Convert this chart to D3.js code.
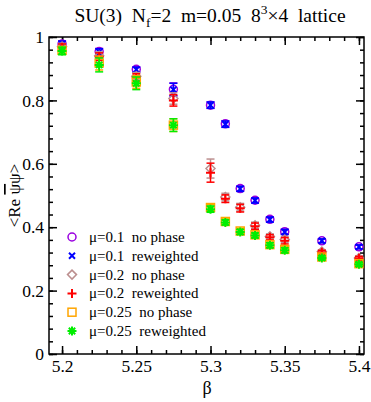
<!DOCTYPE html>
<html>
<head>
<meta charset="utf-8">
<script src="https://cdn.jsdelivr.net/npm/d3@7"></script>
<style>
  body { margin: 0; background: #fff; }
  svg text { font-family: "Liberation Serif", Tinos, "DejaVu Serif", serif !important; fill: #000; }
</style>
</head>
<body>
<svg id="chart" width="371" height="402"></svg>
<script>
'use strict';

// beta values (x)
var beta = [5.2, 5.225, 5.25, 5.275, 5.3, 5.31, 5.32, 5.33, 5.34, 5.35, 5.375, 5.4];

// <Re psibar psi> per series
var mu01NoPhase  = [0.978, 0.954, 0.898, 0.835, 0.785, 0.726, 0.522, 0.485, 0.425, 0.386, 0.357, 0.338];
var mu01Rew      = [0.977, 0.953, 0.897, 0.834, 0.785, 0.725, 0.521, 0.484, 0.424, 0.385, 0.357, 0.338];
var mu01Err      = [0.010, 0.010, 0.008, 0.020, 0.010, 0.010, 0.008, 0.008, 0.008, 0.008, 0.006, 0.006];

var mu02NoPhase  = [0.970, 0.941, 0.876, 0.806, 0.585, 0.495, 0.463, 0.406, 0.371, 0.361, 0.323, 0.303];
var mu02Rew      = [0.968, 0.938, 0.872, 0.800, 0.572, 0.490, 0.460, 0.403, 0.368, 0.357, 0.321, 0.302];
var mu02Err      = [0.010, 0.012, 0.012, 0.018, 0.030, 0.012, 0.012, 0.010, 0.008, 0.010, 0.006, 0.006];

var mu025NoPhase = [0.958, 0.918, 0.858, 0.722, 0.462, 0.418, 0.388, 0.376, 0.345, 0.330, 0.306, 0.285];
var mu025Rew     = [0.956, 0.912, 0.854, 0.722, 0.457, 0.415, 0.385, 0.374, 0.343, 0.327, 0.303, 0.283];
var mu025Err     = [0.012, 0.022, 0.020, 0.020, 0.010, 0.008, 0.008, 0.008, 0.008, 0.008, 0.006, 0.006];

var legendLabels = ['\u03bc=0.1  no phase', '\u03bc=0.1  reweighted', '\u03bc=0.2  no phase',
                    '\u03bc=0.2  reweighted', '\u03bc=0.25  no phase', '\u03bc=0.25  reweighted'];

var xMajor = [5.2, 5.25, 5.3, 5.35, 5.4];
var yMajor = [0, 0.2, 0.4, 0.6, 0.8, 1];

var series = [
  { name: legendLabels[0], vals: mu01NoPhase,  err: mu01Err,  color: '#9a00e0', sym: 'circle' },
  { name: legendLabels[1], vals: mu01Rew,      err: mu01Err,  color: '#0000ff', sym: 'cross' },
  { name: legendLabels[2], vals: mu02NoPhase,  err: mu02Err,  color: '#bc8f8f', sym: 'diamond' },
  { name: legendLabels[3], vals: mu02Rew,      err: mu02Err,  color: '#ff0000', sym: 'plus' },
  { name: legendLabels[4], vals: mu025NoPhase, err: mu025Err, color: '#ffa500', sym: 'square' },
  { name: legendLabels[5], vals: mu025Rew,     err: mu025Err, color: '#00ee00', sym: 'star' }
];

var svg = d3.select('#chart');
var L = 49, R = 364, T = 37, B = 354;

var x = d3.scaleLinear().domain([5.1912, 5.4034]).range([L, R]);
var y = d3.scaleLinear().domain([0, 1]).range([B, T]);

var xMinor = d3.range(5.19, 5.4035, 0.01).filter(function (v) { return v > 5.1912; });
var yMinor = d3.range(0, 1.001, 0.04);

function styleAxis(g) {
  g.attr('font-family', null);
  g.select('.domain').remove();
  g.selectAll('line').attr('stroke', '#000').attr('stroke-width', 1.5);
  g.selectAll('text').style('font-size', '17.5px');
}

// bottom
svg.append('g').attr('transform', 'translate(0,' + B + ')')
  .call(d3.axisBottom(x).tickValues(xMinor).tickSize(-4).tickFormat(''))
  .call(styleAxis);
svg.append('g').attr('transform', 'translate(0,' + B + ')')
  .call(d3.axisBottom(x).tickValues(xMajor).tickSize(-8).tickPadding(6).tickFormat(d3.format('')))
  .call(styleAxis);
// top
svg.append('g').attr('transform', 'translate(0,' + T + ')')
  .call(d3.axisTop(x).tickValues(xMinor).tickSize(-4).tickFormat(''))
  .call(styleAxis);
svg.append('g').attr('transform', 'translate(0,' + T + ')')
  .call(d3.axisTop(x).tickValues(xMajor).tickSize(-8).tickFormat(''))
  .call(styleAxis);
// left
svg.append('g').attr('transform', 'translate(' + L + ',0)')
  .call(d3.axisLeft(y).tickValues(yMinor).tickSize(-4).tickFormat(''))
  .call(styleAxis);
svg.append('g').attr('transform', 'translate(' + L + ',0)')
  .call(d3.axisLeft(y).tickValues(yMajor).tickSize(-8).tickPadding(5).tickFormat(d3.format('')))
  .call(styleAxis);
// right
svg.append('g').attr('transform', 'translate(' + R + ',0)')
  .call(d3.axisRight(y).tickValues(yMinor).tickSize(-4).tickFormat(''))
  .call(styleAxis);
svg.append('g').attr('transform', 'translate(' + R + ',0)')
  .call(d3.axisRight(y).tickValues(yMajor).tickSize(-8).tickFormat(''))
  .call(styleAxis);

svg.append('rect')
  .attr('x', L).attr('y', T).attr('width', R - L).attr('height', B - T)
  .attr('fill', 'none').attr('stroke', '#000').attr('stroke-width', 1.5);

// symbols
function drawSymbol(g, type, color) {
  var s = 4;
  if (type === 'circle') {
    g.append('circle').attr('r', s).attr('fill', 'none').attr('stroke', color).attr('stroke-width', 1.5);
  } else if (type === 'cross') {
    g.append('path').attr('d', 'M-3,-3L3,3M-3,3L3,-3').attr('stroke', color).attr('stroke-width', 2);
  } else if (type === 'diamond') {
    g.append('path').attr('d', 'M0,-4.5L4.5,0L0,4.5L-4.5,0Z').attr('fill', 'none').attr('stroke', color).attr('stroke-width', 1.5);
  } else if (type === 'plus') {
    g.append('path').attr('d', 'M-4.5,0L4.5,0M0,-4.5L0,4.5').attr('stroke', color).attr('stroke-width', 2);
  } else if (type === 'square') {
    g.append('rect').attr('x', -4).attr('y', -4).attr('width', 8).attr('height', 8)
      .attr('fill', 'none').attr('stroke', color).attr('stroke-width', 1.5);
  } else if (type === 'star') {
    var d = '';
    for (var i = 0; i < 4; i++) {
      var a = i * Math.PI / 4;
      d += 'M' + (-4.5 * Math.cos(a)) + ',' + (-4.5 * Math.sin(a)) + 'L' + (4.5 * Math.cos(a)) + ',' + (4.5 * Math.sin(a));
    }
    g.append('circle').attr('r', 2.5).attr('fill', color);
    g.append('path').attr('d', d).attr('stroke', color).attr('stroke-width', 2);
  }
}

series.forEach(function (s) {
  var g = svg.append('g');
  beta.forEach(function (b, i) {
    var cx = x(b), v = s.vals[i], e = s.err[i];
    var eb = g.append('g').attr('stroke', s.color).attr('stroke-width', 1.5);
    eb.append('line').attr('x1', cx).attr('x2', cx).attr('y1', y(v - e)).attr('y2', y(v + e));
    eb.append('line').attr('x1', cx - 4).attr('x2', cx + 4).attr('y1', y(v - e)).attr('y2', y(v - e));
    eb.append('line').attr('x1', cx - 4).attr('x2', cx + 4).attr('y1', y(v + e)).attr('y2', y(v + e));
    var p = g.append('g').attr('transform', 'translate(' + cx + ',' + y(v) + ')');
    drawSymbol(p, s.sym, s.color);
  });
});

// legend
series.forEach(function (s, i) {
  var ly = 237 + i * 18.8;
  drawSymbol(svg.append('g').attr('transform', 'translate(72,' + ly + ')'), s.sym, s.color);
  svg.append('text').attr('x', 89).attr('y', ly + 5)
    .attr('xml:space', 'preserve').style('white-space', 'pre')
    .style('font-size', '15px').text(s.name);
});

// title
var title = svg.append('text').attr('x', 210).attr('y', 22).attr('text-anchor', 'middle')
  .style('font-size', '19.5px').style('white-space', 'pre');
title.append('tspan').text('SU(3)  N');
title.append('tspan').attr('dy', 5).style('font-size', '13.5px').text('f');
title.append('tspan').attr('dy', -5).text('=2  m=0.05  8');
title.append('tspan').attr('dy', -8).style('font-size', '13.5px').text('3');
title.append('tspan').attr('dy', 8).text('\u00d74  lattice');

// axis labels
svg.append('text').attr('x', 207).attr('y', 394).attr('text-anchor', 'middle')
  .style('font-size', '18px').text('\u03b2');

var yl = svg.append('text').attr('transform', 'translate(20,' + ((T + B) / 2) + ') rotate(-90)')
  .attr('text-anchor', 'middle').style('font-size', '17px').style('white-space', 'pre');
yl.append('tspan').text('<Re ');
yl.append('tspan').attr('text-decoration', 'overline').style('text-decoration', 'overline').text('\u03c8');
yl.append('tspan').text('\u03c8>');
</script>
</body>
</html>
